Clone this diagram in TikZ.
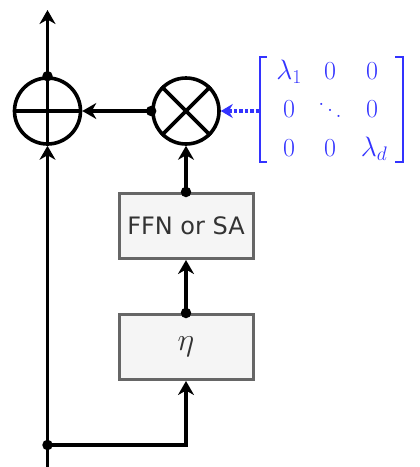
\RequirePackage{fix-cm}
\documentclass[tikz,border=0pt]{standalone}
\usepackage{fontspec}
\usepackage{amsmath}
\setsansfont{DejaVu Sans}
\usetikzlibrary{arrows.meta}
\definecolor{mblue}{RGB}{51,51,255}
\definecolor{boxfill}{RGB}{245,245,245}
\definecolor{boxdraw}{RGB}{102,102,102}
\definecolor{txt}{RGB}{51,51,51}
\newcommand{\myddots}{\mathinner{\mkern1mu\raise0.45em\hbox{.}\mkern1.5mu\raise0.22em\hbox{.}\mkern1.5mu\hbox{.}\mkern1mu}}
\begin{document}
\begin{tikzpicture}[x=1pt,y=-1pt,
  tip/.style={-{Stealth[length=14pt,width=16pt,inset=4.5pt]}},
  wire/.style={line width=3.6pt,tip},
  opcircle/.style={circle,draw,line width=3.6pt,minimum size=66pt,inner sep=0pt},
  blockbox/.style={rectangle,draw=boxdraw,fill=boxfill,line width=3pt,minimum width=134pt,minimum height=65pt,inner sep=0pt,text=txt},
  entry/.style={anchor=base,text=mblue,inner sep=0pt,font=\fontsize{26}{31}\selectfont},
  bigentry/.style={entry,font=\fontsize{28}{33}\selectfont},
  bracket/.style={draw=mblue,line width=2.5pt},
  dot/.style={circle,fill,inner sep=0pt,minimum size=10.5pt}
]
\useasboundingbox (0,0) rectangle (420,467);
% operators
\node[opcircle] (plus) at (47.5,111) {};
\node[opcircle] (times) at (186,111) {};
\draw[line width=3.6pt] (plus.north) -- (plus.south) (plus.west) -- (plus.east);
\draw[line width=3.6pt] (times.north east) -- (times.south west) (times.north west) -- (times.south east);
% boxes
\node[blockbox,font=\sffamily\fontsize{24}{28}\selectfont] (ffn) at (186,226) {FFN or SA};
\node[blockbox,font=\fontsize{32}{38}\selectfont] (eta) at (186,347) {$\eta$};
% coordinates
\coordinate (top) at (47.5,10);
\coordinate (bottom) at (47.5,470);
\coordinate (split) at (47.5,445);
% connectors
\draw[wire] (plus.north) -- (top);
\draw[line width=3.6pt] (bottom) -- (split);
\draw[wire] (split) -- (plus.south);
\draw[wire] (split) -| (eta.south);
\draw[wire] (eta.north) -- (ffn.south);
\draw[wire] (ffn.north) -- (times.south);
\draw[wire] (times.west) -- (plus.east);
\node[dot] (d1) at (plus.north) {};
\node[dot] (d2) at (times.west) {};
\node[dot] (d3) at (ffn.north) {};
\node[dot] (d4) at (eta.north) {};
\node[dot] (d5) at (split) {};
% matrix
\node[bigentry] (m11) at (289,79.5) {$\lambda_1$};
\node[entry] (m12) at (330,79.5) {$0$};
\node[entry] (m13) at (372,79.5) {$0$};
\node[entry] (m21) at (289,117.5) {$0$};
\node[entry] (m22) at (330,117.5) {$\myddots$};
\node[entry] (m23) at (372,117.5) {$0$};
\node[entry] (m31) at (289,156.5) {$0$};
\node[entry] (m32) at (330,156.5) {$0$};
\node[bigentry] (m33) at (374,156.5) {$\lambda_d$};
\draw[bracket] (267,57) -- (260,57) -- (260,162) -- (267,162);
\draw[bracket] (395,57) -- (403,57) -- (403,162) -- (395,162);
\coordinate (matleft) at (259,111);
\draw[mblue,line width=3.5pt,dotted,-{Stealth[length=12pt,width=14pt,inset=4pt]}] (matleft) -- (times.east);
\end{tikzpicture}
\end{document}
